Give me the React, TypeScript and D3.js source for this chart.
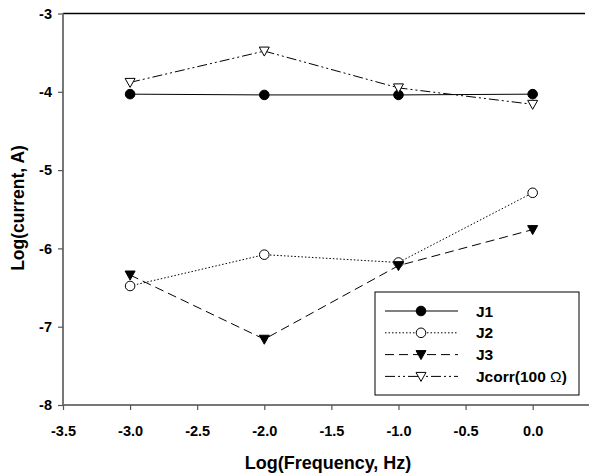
import React, { useEffect, useRef } from 'react';
import * as d3 from 'd3';

// log frequency (Hz) of each measurement
const logFreq = [-3, -2, -1, 0];

// log current (A)
const j1 = [-4.03, -4.04, -4.04, -4.03];
const j2 = [-6.48, -6.08, -6.18, -5.29];
const j3 = [-6.34, -7.16, -6.22, -5.76];
const jcorr = [-3.88, -3.48, -3.95, -4.16];

const xTicks = [-3.5, -3.0, -2.5, -2.0, -1.5, -1.0, -0.5, 0.0];
const yTicks = [-8, -7, -6, -5, -4, -3];

const seriesNames = ['J1', 'J2', 'J3', 'Jcorr(100 '];

const W = 589;
const H = 475;
const FONT = '"Liberation Sans", Arial, sans-serif';

// plain hyphen instead of d3's unicode minus
const fmt = (f) => (d) => f(d).replace('\u2212', '-');

const App = () => {
    const ref = useRef<SVGSVGElement>(null);

    useEffect(() => {
        const svg = d3.select(ref.current);
        svg.selectAll('*').remove();

        const x = d3.scaleLinear().domain([-3.5, 0.39]).range([63, 585]);
        const y = d3.scaleLinear().domain([-8, -3]).range([405, 13.5]);

        const series = [
            { name: seriesNames[0], values: j1, dash: null, marker: 'circle', fill: '#000' },
            { name: seriesNames[1], values: j2, dash: '1.5,2', marker: 'circle', fill: '#fff' },
            { name: seriesNames[2], values: j3, dash: '9,5', marker: 'tri', fill: '#000' },
            { name: seriesNames[3], values: jcorr, dash: '10,3,2,3,2,3', marker: 'tri', fill: '#fff', omega: true },
        ];

        // top frame line
        svg.append('line')
            .attr('x1', x.range()[0]).attr('x2', x.range()[1])
            .attr('y1', y(-3)).attr('y2', y(-3))
            .attr('stroke', '#000').attr('stroke-width', 1.5);

        // y axis
        const yAxis = svg.append('g').attr('transform', 'translate(' + x(-3.5) + ',0)')
            .call(d3.axisLeft(y).tickValues(yTicks).tickSize(5).tickPadding(6).tickFormat(fmt(d3.format('d'))));
        yAxis.select('.domain').attr('stroke', '#777').attr('stroke-width', 2).attr('d', 'M0,' + y(-3) + 'V' + y(-8));
        yAxis.selectAll('.tick line').attr('stroke', '#555').attr('stroke-width', 1.2);
        yAxis.selectAll('.tick text')
            .attr('font-family', FONT).attr('font-weight', 'bold').attr('font-size', 14.5).attr('fill', '#000');

        // x axis
        const xAxis = svg.append('g').attr('transform', 'translate(0,' + y(-8) + ')')
            .call(d3.axisBottom(x).tickValues(xTicks).tickSize(5).tickPadding(16).tickFormat(fmt(d3.format('.1f'))));
        xAxis.select('.domain').attr('stroke', '#777').attr('stroke-width', 2).attr('d', 'M' + x.range()[0] + ',0H' + W);
        xAxis.selectAll('.tick line').attr('stroke', '#555').attr('stroke-width', 1.2);
        xAxis.selectAll('.tick text')
            .attr('font-family', FONT).attr('font-weight', 'bold').attr('font-size', 14.5).attr('fill', '#000');

        // axis titles
        svg.append('text')
            .attr('x', 328).attr('y', 469)
            .attr('text-anchor', 'middle')
            .attr('font-family', FONT).attr('font-weight', 'bold').attr('font-size', 18)
            .text('Log(Frequency, Hz)');

        svg.append('text')
            .attr('transform', 'translate(24,208) rotate(-90)')
            .attr('text-anchor', 'middle')
            .attr('font-family', FONT).attr('font-weight', 'bold').attr('font-size', 17.5)
            .text('Log(current, A)');

        const line = d3.line<number>()
            .x((d, i) => x(logFreq[i]))
            .y(d => y(d));

        const triDown = (cx, cy) => 'M' + (cx - 5) + ',' + (cy - 4) + 'L' + (cx + 5) + ',' + (cy - 4) + 'L' + cx + ',' + (cy + 5) + 'Z';

        const drawMarker = (g, s, cx, cy) => {
            if (s.marker === 'circle') {
                g.append('circle').attr('cx', cx).attr('cy', cy).attr('r', 4.8)
                    .attr('fill', s.fill).attr('stroke', '#000').attr('stroke-width', 1);
            } else {
                g.append('path').attr('d', triDown(cx, cy))
                    .attr('fill', s.fill).attr('stroke', '#000').attr('stroke-width', 1);
            }
        };

        series.forEach(s => {
            const g = svg.append('g');
            g.append('path')
                .attr('d', line(s.values))
                .attr('fill', 'none')
                .attr('stroke', '#000')
                .attr('stroke-width', 1)
                .attr('stroke-dasharray', s.dash);
            s.values.forEach((v, i) => drawMarker(g, s, x(logFreq[i]), y(v)));
        });

        // legend
        const lg = svg.append('g');
        lg.append('rect')
            .attr('x', 375).attr('y', 292).attr('width', 204).attr('height', 103)
            .attr('fill', '#fff').attr('stroke', '#000').attr('stroke-width', 1);
        series.forEach((s, i) => {
            const ly = 311 + i * 21.8;
            lg.append('line')
                .attr('x1', 385).attr('x2', 458).attr('y1', ly).attr('y2', ly)
                .attr('stroke', '#000').attr('stroke-width', 1)
                .attr('stroke-dasharray', s.dash);
            drawMarker(lg, s, 421, ly);
            const t = lg.append('text')
                .attr('x', 476).attr('y', ly + 5.5)
                .attr('font-family', FONT).attr('font-weight', 'bold').attr('font-size', 15.5)
                .text(s.name);
            if (s.omega) {
                t.append('tspan').attr('font-weight', 'normal').text('\u03A9');
                t.append('tspan').text(')');
            }
        });
    }, []);

    return (
        <svg ref={ref} width={W} height={H}
            style={{ position: 'absolute', left: 0, top: 0, background: '#fff' }} />
    );
};

export default App;
